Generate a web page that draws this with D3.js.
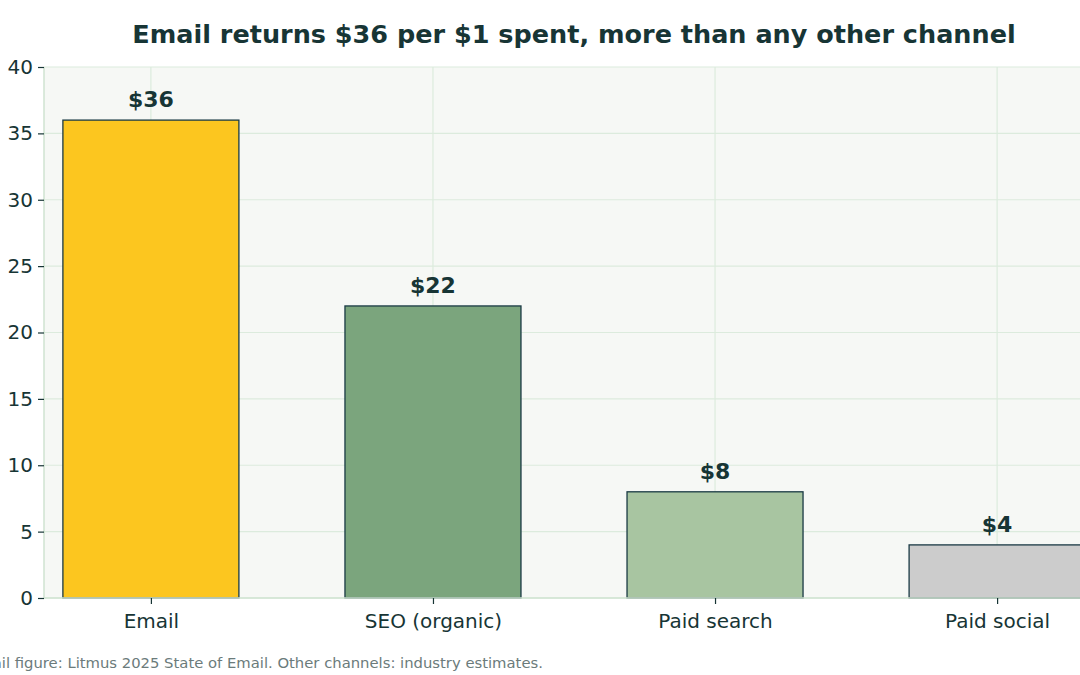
<!DOCTYPE html>
<html>
<head>
<meta charset="utf-8">
<script src="https://cdn.jsdelivr.net/npm/d3@7"></script>
<style>
  html, body { margin: 0; padding: 0; background: #ffffff; overflow: hidden; }
  text { font-family: "DejaVu Sans", sans-serif; }
</style>
</head>
<body>
<div id="chart"></div>
<script>
const channels = ['Email', 'SEO (organic)', 'Paid search', 'Paid social'];
const returns = [36, 22, 8, 4];
const barColors = ['#FCC61F', '#7BA57D', '#A8C5A1', '#CCCCCC'];
const yTicks = [0, 5, 10, 15, 20, 25, 30, 35, 40];
const title = 'Email returns $36 per $1 spent, more than any other channel';
const footnote = 'Email figure: Litmus 2025 State of Email. Other channels: industry estimates.';

const W = 1080, H = 675;
const margin = { top: 67, left: 44, bottom: 77 };
const plotW = 1060;
const plotH = H - margin.top - margin.bottom;
const ink = '#173535';

const svg = d3.select('#chart').append('svg')
  .attr('width', W).attr('height', H);

const g = svg.append('g')
  .attr('transform', `translate(${margin.left},${margin.top})`);

// index scale, bars are 0.624 units wide
const x = d3.scaleLinear().domain([-0.379, 3.379]).range([0, plotW]);
const y = d3.scaleLinear().domain([0, 40]).range([plotH, 0]);
const barW = x(0.312) - x(0);

g.append('rect')
  .attr('width', plotW).attr('height', plotH)
  .attr('fill', '#F6F8F5');

// grid
g.selectAll('.hgrid').data(yTicks).enter().append('line')
  .attr('x1', 0).attr('x2', plotW)
  .attr('y1', d => y(d)).attr('y2', d => y(d))
  .attr('stroke', '#DCEBDD').attr('stroke-width', 1.2);
g.selectAll('.vgrid').data(d3.range(channels.length)).enter().append('line')
  .attr('x1', d => x(d)).attr('x2', d => x(d))
  .attr('y1', 0).attr('y2', plotH)
  .attr('stroke', '#DCEBDD').attr('stroke-width', 1.2);

// bars
g.selectAll('.bar').data(returns).enter().append('rect')
  .attr('x', (d, i) => x(i) - barW)
  .attr('y', d => y(d))
  .attr('width', barW * 2)
  .attr('height', d => plotH - y(d))
  .attr('fill', (d, i) => barColors[i])
  .attr('stroke', '#1A3A44')
  .attr('stroke-width', 1.3);

// value labels
g.selectAll('.val').data(returns).enter().append('text')
  .attr('x', (d, i) => x(i))
  .attr('y', d => y(d) - 13)
  .attr('text-anchor', 'middle')
  .style('font-size', '22px')
  .style('font-weight', 'bold')
  .style('fill', ink)
  .text(d => '$' + d);

// spines
g.append('line').attr('x1', 0).attr('x2', 0).attr('y1', 0).attr('y2', plotH)
  .attr('stroke', '#CFE3D0').attr('stroke-width', 1.5);
g.append('line').attr('x1', 0).attr('x2', plotW).attr('y1', plotH).attr('y2', plotH)
  .attr('stroke', '#CFE3D0').attr('stroke-width', 1.5);

// y axis
const yAxis = g.append('g')
  .call(d3.axisLeft(y).tickValues(yTicks).tickSize(6).tickPadding(5).tickSizeOuter(0));
yAxis.select('.domain').remove();
yAxis.selectAll('line').attr('stroke', ink).attr('stroke-width', 1.2);
yAxis.selectAll('text').style('font-size', '20px').style('fill', ink)
  .style('font-family', '"DejaVu Sans", sans-serif');

// x axis
const xAxis = g.append('g')
  .attr('transform', `translate(0,${plotH})`)
  .call(d3.axisBottom(x).tickValues(d3.range(channels.length))
    .tickFormat(i => channels[i]).tickSize(6).tickPadding(10).tickSizeOuter(0));
xAxis.select('.domain').remove();
xAxis.selectAll('line').attr('stroke', ink).attr('stroke-width', 1.2);
xAxis.selectAll('text').style('font-size', '20px').style('fill', ink)
  .style('font-family', '"DejaVu Sans", sans-serif');

// title
svg.append('text')
  .attr('x', margin.left + plotW / 2)
  .attr('y', 43)
  .attr('text-anchor', 'middle')
  .style('font-size', '25.5px')
  .style('font-weight', 'bold')
  .style('fill', ink)
  .text(title);

// footnote
svg.append('text')
  .attr('x', -31)
  .attr('y', 668)
  .style('font-size', '14.8px')
  .style('fill', '#6B7B7B')
  .text(footnote);
</script>
</body>
</html>
